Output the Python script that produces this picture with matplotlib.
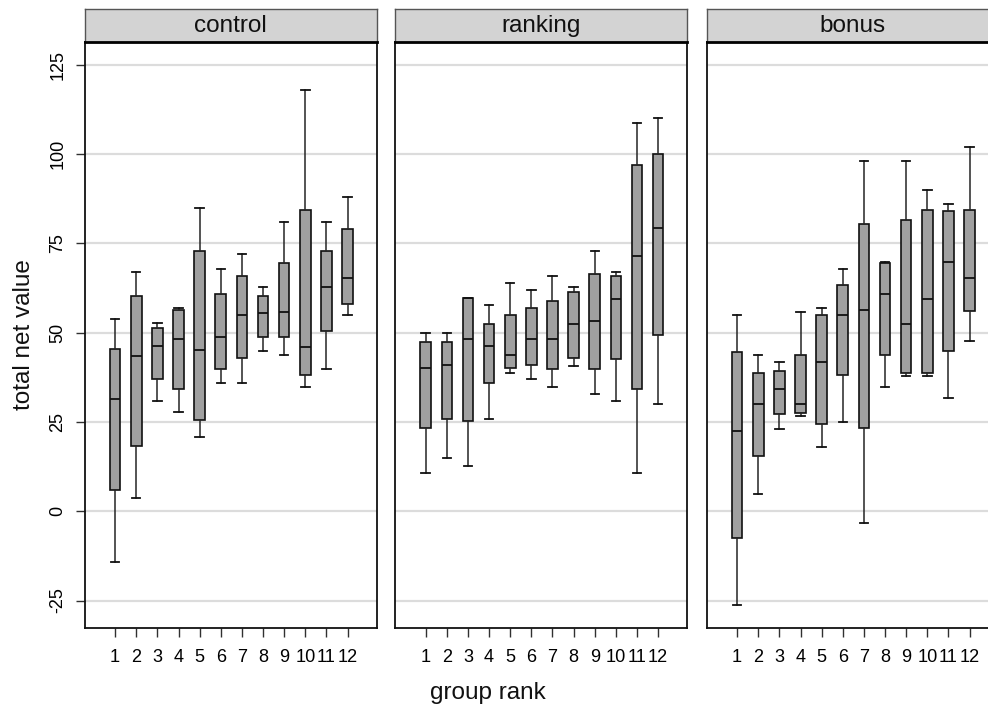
import matplotlib
matplotlib.use("Agg")
import matplotlib.pyplot as plt

plt.rcParams['font.family'] = ['Liberation Sans', 'DejaVu Sans']

panels = ["control", "ranking", "bonus"]
ranks = [str(i) for i in range(1, 13)]
yticks = [-25, 0, 25, 50, 75, 100, 125]

# control
control_whislo = [-14.1, 3.7, 30.8, 27.9, 20.8, 35.8, 35.8, 45.0, 43.8, 34.9, 39.9, 55.0]
control_q1     = [6.0, 18.2, 37.0, 34.3, 25.5, 39.9, 42.9, 48.9, 48.9, 38.2, 50.5, 57.9]
control_med    = [31.3, 43.4, 46.4, 48.3, 45.2, 48.9, 55.0, 55.4, 55.9, 45.9, 62.9, 65.4]
control_q3     = [45.4, 60.4, 51.3, 56.4, 72.9, 60.9, 65.9, 60.4, 69.5, 84.3, 72.9, 78.9]
control_whishi = [53.8, 67.0, 52.8, 57.0, 84.9, 67.9, 72.0, 62.9, 81.1, 118.0, 81.1, 87.9]

# ranking
ranking_whislo = [10.8, 14.8, 12.8, 25.8, 38.8, 36.9, 34.9, 40.8, 32.9, 30.8, 10.8, 29.9]
ranking_q1     = [23.3, 25.8, 25.4, 35.8, 40.2, 40.9, 39.8, 42.9, 39.8, 42.6, 34.3, 49.4]
ranking_med    = [40.2, 40.9, 48.3, 46.4, 43.8, 48.3, 48.3, 52.5, 53.4, 59.4, 71.5, 79.3]
ranking_q3     = [47.5, 47.5, 59.6, 52.5, 55.0, 57.0, 58.9, 61.4, 66.4, 65.9, 96.9, 99.9]
ranking_whishi = [50.0, 50.0, 59.8, 57.8, 63.9, 62.0, 65.9, 62.9, 72.9, 67.0, 108.8, 110.0]

# bonus
bonus_whislo = [-26.2, 4.9, 23.0, 26.8, 17.9, 24.9, -3.2, 34.9, 38.0, 38.0, 31.8, 47.8]
bonus_q1     = [-7.5, 15.5, 27.3, 27.4, 24.4, 38.2, 23.4, 43.8, 38.8, 38.8, 45.0, 56.0]
bonus_med    = [22.4, 29.9, 34.3, 29.9, 41.9, 55.0, 56.4, 60.9, 52.5, 59.4, 69.9, 65.4]
bonus_q3     = [44.5, 38.8, 39.4, 43.8, 55.0, 63.3, 80.4, 69.5, 81.5, 84.3, 84.0, 84.3]
bonus_whishi = [55.0, 43.8, 41.9, 55.8, 57.0, 67.9, 98.0, 69.9, 98.0, 89.9, 86.0, 102.0]

data = {
    "control": (control_whislo, control_q1, control_med, control_q3, control_whishi),
    "ranking": (ranking_whislo, ranking_q1, ranking_med, ranking_q3, ranking_whishi),
    "bonus": (bonus_whislo, bonus_q1, bonus_med, bonus_q3, bonus_whishi),
}

W, H = 988, 713
fig = plt.figure(figsize=(W / 100, H / 100), dpi=100)

lefts_px = [84.7, 395.3, 706.7]
width_px = 292.0
top_px, bottom_px = 42.0, 627.7
strip_top_px = 8.7

positions = list(range(1, 13))

for i, name in enumerate(panels):
    l = lefts_px[i] / W
    w = width_px / W
    b = 1 - bottom_px / H
    h = (bottom_px - top_px) / H
    ax = fig.add_axes([l, b, w, h])
    wl, q1, md, q3, wh = data[name]
    stats = [dict(whislo=wl[k], q1=q1[k], med=md[k], q3=q3[k], whishi=wh[k], fliers=[])
             for k in range(len(ranks))]
    ax.bxp(stats, positions=positions, widths=0.5, capwidths=0.4,
           patch_artist=True, showfliers=False,
           boxprops=dict(facecolor='#a0a0a0', edgecolor='#101010', linewidth=1.2),
           medianprops=dict(color='#101010', linewidth=1.3),
           whiskerprops=dict(color='#252525', linewidth=1.1),
           capprops=dict(color='#101010', linewidth=1.3))
    ax.set_xlim(-0.44, 13.38)
    ax.set_ylim(-32.6, 131.4)
    ax.set_yticks(yticks)
    ax.yaxis.grid(True, color='#dcdcdc', linewidth=1.6)
    ax.set_axisbelow(True)
    ax.set_xticks(positions)
    ax.set_xticklabels(ranks, fontsize=13.1)
    ax.tick_params(axis='x', length=6.2, width=1.0, color='#303030', pad=9)
    if i == 0:
        ax.set_yticklabels([str(v) for v in yticks], rotation=90, va='center', fontsize=13)
        ax.tick_params(axis='y', length=6.2, width=1.0, color='#303030', pad=7)
    else:
        ax.tick_params(axis='y', left=False, labelleft=False)
    for s in ax.spines.values():
        s.set_linewidth(1.3)
        s.set_color('#111111')

    # strip
    sb = 1 - top_px / H
    sh = (top_px - strip_top_px) / H
    sax = fig.add_axes([l, sb, w, sh])
    sax.set_facecolor('#d3d3d3')
    sax.set_xticks([])
    sax.set_yticks([])
    for key, s in sax.spines.items():
        s.set_color('#555555')
        s.set_linewidth(1.0)
    sax.spines['bottom'].set_color('#000000')
    sax.spines['bottom'].set_linewidth(2.0)
    sax.text(0.5, 0.47, name, transform=sax.transAxes, ha='center', va='center',
             fontsize=17.5, color='#111111')

fig.text(24 / W, 1 - 335 / H, "total net value", rotation=90, ha='center', va='center',
         fontsize=17.5, color='#111111')
fig.text(488 / W, 1 - 693 / H, "group rank", ha='center', va='center',
         fontsize=17.5, color='#111111')

fig.savefig("out.png", dpi=100)
